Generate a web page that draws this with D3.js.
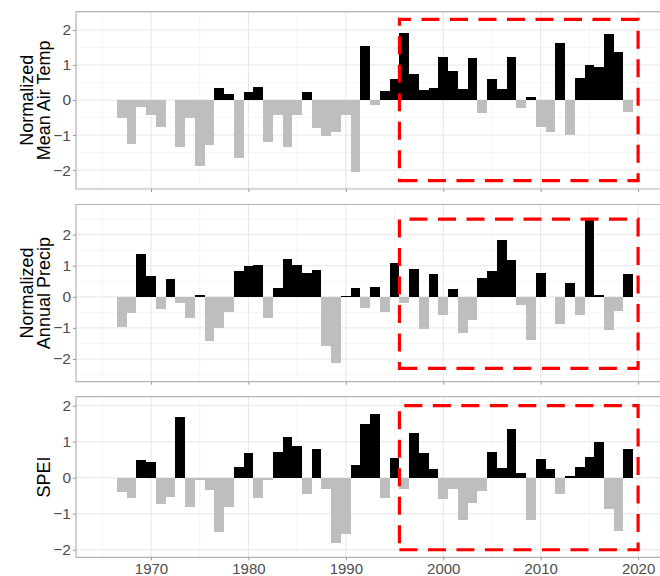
<!DOCTYPE html>
<html>
<head>
<meta charset="utf-8">
<script src="https://cdn.jsdelivr.net/npm/d3@7"></script>
<style>
  body { margin: 0; background: #fff; }
  svg { display: block; font-family: "Liberation Sans", Arial, sans-serif; }
</style>
</head>
<body>
<svg id="chart" width="660" height="576"></svg>
<script>
// years on the x axis, one bar per year
const years = [1967, 1968, 1969, 1970, 1971, 1972, 1973, 1974, 1975, 1976,
  1977, 1978, 1979, 1980, 1981, 1982, 1983, 1984, 1985, 1986,
  1987, 1988, 1989, 1990, 1991, 1992, 1993, 1994, 1995, 1996,
  1997, 1998, 1999, 2000, 2001, 2002, 2003, 2004, 2005, 2006,
  2007, 2008, 2009, 2010, 2011, 2012, 2013, 2014, 2015, 2016,
  2017, 2018, 2019];

const airTemp = [-0.52, -1.26, -0.19, -0.43, -0.78, 0, -1.35, -0.52, -1.88, -1.29,
  0.33, 0.16, -1.66, 0.24, 0.37, -1.21, -0.43, -1.33, -0.43, 0.22,
  -0.81, -1.02, -0.90, -0.43, -2.05, 1.54, -0.14, 0.27, 0.59, 1.90,
  0.74, 0.28, 0.34, 1.22, 0.84, 0.30, 1.20, -0.38, 0.60, 0.30,
  1.24, -0.22, 0.08, -0.78, -0.91, 1.62, -0.99, 0.64, 0.99, 0.95,
  1.88, 1.36, -0.33];

const annualPrecip = [-0.98, -0.52, 1.39, 0.67, -0.39, 0.56, -0.19, -0.69, 0.06, -1.41,
  -1.00, -0.49, 0.83, 0.99, 1.01, -0.69, 0.30, 1.23, 1.03, 0.76,
  0.85, -1.57, -2.13, 0.04, 0.28, -0.35, 0.32, -0.49, 1.10, -0.19,
  0.88, -1.03, 0.75, -0.57, 0.24, -1.16, -0.75, 0.61, 0.83, 1.84,
  1.17, -0.26, -1.40, 0.76, 0, -0.88, 0.44, -0.60, 2.49, 0.06,
  -1.08, -0.46, 0.72];

const spei = [-0.40, -0.56, 0.49, 0.45, -0.73, -0.53, 1.69, -0.81, -0.06, -0.34,
  -1.52, -0.82, 0.31, 0.69, -0.56, -0.05, 0.72, 1.12, 0.89, -0.44,
  0.79, -0.30, -1.82, -1.57, 0.35, 1.48, 1.77, -0.56, 0.56, -0.30,
  1.23, 0.69, 0.25, -0.60, -0.32, -1.18, -0.69, -0.36, 0.72, 0.26,
  1.34, 0.14, -1.18, 0.53, 0.24, -0.46, 0.06, 0.29, 0.58, 0.98,
  -0.86, -1.48, 0.79];

const panelTitles = [["Normalized", "Mean Air Temp"], ["Normalized", "Annual Precip"], ["SPEI"]];
const yTicks = [-2, -1, 0, 1, 2];
const xTicks = [1970, 1980, 1990, 2000, 2010, 2020];
const xMinorTicks = [1965, 1975, 1985, 1995, 2005, 2015, 2025];
const boxYears = [1995.5, 2020];
const boxLimits = [[-2.3, 2.3], [-2.3, 2.5], [-2, 2]];

const series = [airTemp, annualPrecip, spei];

// layout of each panel (pixels) and its y range
const layout = [
  {top: 11.7, bottom: 189, domain: [-2.54, 2.52]},
  {top: 204.5, bottom: 381.7, domain: [-2.73, 2.97]},
  {top: 396.7, bottom: 557.3, domain: [-2.21, 2.25]}
];
const left = 76, right = 680;

const svg = d3.select("#chart");

const x = d3.scaleLinear()
  .domain([1962.3, 2024.3])
  .range([left, right]);

series.forEach((values, i) => {
  const lay = layout[i];
  const y = d3.scaleLinear().domain(lay.domain).range([lay.bottom, lay.top]);
  const g = svg.append("g");

  const clipId = "clip" + i;
  g.append("clipPath").attr("id", clipId)
    .append("rect")
    .attr("x", left).attr("y", lay.top)
    .attr("width", right - left).attr("height", lay.bottom - lay.top);

  const inner = g.append("g").attr("clip-path", "url(#" + clipId + ")");

  // minor grid
  const yMinor = d3.range(Math.ceil(lay.domain[0] * 2) / 2, lay.domain[1], 1)
    .filter(v => Math.abs(v % 1) === 0.5);
  inner.selectAll(".hminor").data(yMinor).enter().append("line")
    .attr("x1", left).attr("x2", right)
    .attr("y1", d => y(d)).attr("y2", d => y(d))
    .attr("stroke", "#f3f3f3").attr("stroke-width", 0.8);
  inner.selectAll(".vminor").data(xMinorTicks).enter().append("line")
    .attr("x1", d => x(d)).attr("x2", d => x(d))
    .attr("y1", lay.top).attr("y2", lay.bottom)
    .attr("stroke", "#f3f3f3").attr("stroke-width", 0.8);

  // major grid
  inner.selectAll(".hmajor").data(yTicks).enter().append("line")
    .attr("x1", left).attr("x2", right)
    .attr("y1", d => y(d)).attr("y2", d => y(d))
    .attr("stroke", "#e6e6e6").attr("stroke-width", 1);
  inner.selectAll(".vmajor").data(xTicks).enter().append("line")
    .attr("x1", d => x(d)).attr("x2", d => x(d))
    .attr("y1", lay.top).attr("y2", lay.bottom)
    .attr("stroke", "#e6e6e6").attr("stroke-width", 1);

  // bars
  inner.selectAll(".bar").data(values).enter().append("rect")
    .attr("x", (d, j) => x(years[j] - 0.5))
    .attr("width", (d, j) => x(years[j] + 0.5) - x(years[j] - 0.5))
    .attr("y", d => y(Math.max(0, d)))
    .attr("height", d => Math.abs(y(d) - y(0)))
    .attr("fill", d => d >= 0 ? "#000000" : "#bebebe")
    .attr("shape-rendering", "crispEdges");

  // panel border
  g.append("path")
    .attr("d", `M${right},${lay.top}H${left}V${lay.bottom}H${right}`)
    .attr("fill", "none").attr("stroke", "#b3b3b3").attr("stroke-width", 1.2);

  // dashed box
  const bx0 = x(boxYears[0]), bx1 = x(boxYears[1]);
  const by0 = y(boxLimits[i][0]), by1 = y(boxLimits[i][1]);
  g.append("path")
    .attr("d", `M${bx0},${by0}H${bx1}V${by1}H${bx0}Z`)
    .attr("fill", "none").attr("stroke", "#ff0000")
    .attr("stroke-width", 3.2).attr("stroke-dasharray", "18,10.5");

  // y axis
  const yAxis = g.append("g")
    .attr("transform", `translate(${left},0)`)
    .call(d3.axisLeft(y).tickValues(yTicks).tickSize(3).tickPadding(2).tickFormat(d3.format("d")));
  yAxis.select(".domain").remove();
  yAxis.selectAll(".tick line").attr("stroke", "#999999");
  yAxis.selectAll(".tick text")
    .attr("fill", "#4d4d4d").style("font-size", "15.5px")
    .style("font-family", "'Liberation Sans', Arial, sans-serif");

  // x axis
  const xAxis = g.append("g")
    .attr("transform", `translate(0,${lay.bottom})`)
    .call(d3.axisBottom(x).tickValues(xTicks).tickSize(3).tickPadding(3).tickFormat(d3.format("d")));
  xAxis.select(".domain").remove();
  xAxis.selectAll(".tick line").attr("stroke", "#999999");
  xAxis.selectAll(".tick text")
    .attr("fill", "#4d4d4d").style("font-size", "15px")
    .style("font-family", "'Liberation Sans', Arial, sans-serif");
  if (i < 2) xAxis.selectAll(".tick text").remove();

  // axis title
  const lines = panelTitles[i];
  const cy = (lay.top + lay.bottom) / 2;
  lines.forEach((t, k) => {
    const baseX = 50 - (lines.length - 1 - k) * 16.7;
    svg.append("text")
      .attr("transform", `translate(${baseX},${cy}) rotate(-90)`)
      .attr("text-anchor", "middle")
      .style("font-size", "18px")
      .attr("fill", "#000")
      .text(t);
  });
});
</script>
</body>
</html>
